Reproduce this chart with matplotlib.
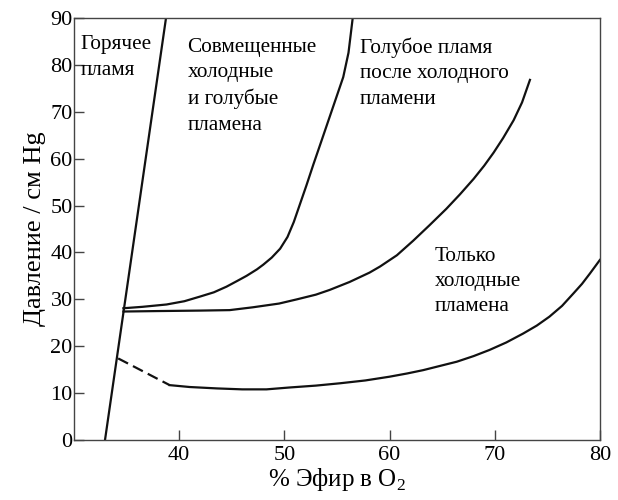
import numpy as np
import matplotlib
matplotlib.use("Agg")
import matplotlib.pyplot as plt

plt.rcParams['font.family'] = ['Liberation Serif', 'DejaVu Serif']
plt.rcParams['mathtext.fontset'] = 'custom'
plt.rcParams['mathtext.rm'] = 'Liberation Serif'

# boundary: hot flame
hot_x = [32.95, 38.75]
hot_y = [0, 90]

# boundary: combined cold and blue flames
comb_x = [34.7, 36.5, 38.8, 40.5, 42.0, 43.3, 44.5, 45.5, 46.4, 47.4, 48.0, 48.8, 49.6, 50.3, 50.9,
          51.5, 52.1, 52.75, 53.5, 54.2, 54.9, 55.6, 56.1, 56.5]
comb_y = [28.1, 28.4, 28.9, 29.6, 30.6, 31.5, 32.7, 33.9, 35.0, 36.4, 37.4, 38.9, 40.8, 43.3, 46.5,
          50.4, 54.3, 58.7, 63.6, 68.2, 72.8, 77.4, 82.6, 90.0]

# boundary: blue flame after cold flame
blue_x = [34.7, 38.0, 42.0, 44.8, 47.0, 49.5, 51.2, 53.0, 54.3, 56.2, 58.1, 59.1, 60.7, 62.25, 63.8,
          65.4, 66.7, 68.0, 69.0, 69.9, 70.8, 71.8, 72.6, 73.35]
blue_y = [27.4, 27.5, 27.6, 27.7, 28.3, 29.1, 30.0, 31.0, 32.0, 33.7, 35.7, 37.0, 39.4, 42.5, 45.8,
          49.3, 52.4, 55.7, 58.5, 61.3, 64.4, 68.2, 72.0, 76.8]

# boundary: cold flames only (dashed part, then solid part)
cold_dash_x = [34.2, 39.1]
cold_dash_y = [17.4, 11.7]
cold_x = [39.1, 41.0, 43.6, 46.0, 48.3, 50.5, 53.0, 55.3, 57.7, 60.0, 61.7, 63.2, 64.8, 66.4, 68.0,
          69.5, 71.1, 72.7, 74.0, 75.2, 76.4, 77.5, 78.3, 79.05, 80.0]
cold_y = [11.7, 11.3, 11.0, 10.8, 10.8, 11.2, 11.6, 12.1, 12.7, 13.5, 14.2, 14.9, 15.8, 16.7, 17.9,
          19.2, 20.8, 22.7, 24.4, 26.3, 28.6, 31.3, 33.3, 35.5, 38.4]

x_ticks = [40, 50, 60, 70, 80]
y_ticks = list(range(0, 91, 10))

fig = plt.figure(figsize=(6.18, 5), dpi=100)
ax = fig.add_axes([0.1197, 0.12, 0.851, 0.844])

lw = 1.6
for xs, ys in [(hot_x, hot_y), (comb_x, comb_y), (blue_x, blue_y), (cold_x, cold_y)]:
    ax.plot(xs, ys, color='#111111', lw=lw, solid_joinstyle='round')
ax.plot(cold_dash_x, cold_dash_y, color='#111111', lw=lw, dashes=(5, 2.5))

ax.set_xlim(30, 80)
ax.set_ylim(0, 90)
ax.set_xticks(x_ticks)
ax.set_yticks(y_ticks)
ax.tick_params(direction='in', length=7, width=1, labelsize=16, color='#444444')
ax.tick_params(axis='y', pad=1)
ax.tick_params(axis='x', pad=4)
for s in ax.spines.values():
    s.set_linewidth(1)
    s.set_color('#444444')

ax.set_xlabel('% Эфир в O$_2$', fontsize=18, labelpad=1)
ax.set_ylabel('Давление / см Hg', fontsize=19, labelpad=3)

fs = 15.3
ls = 1.45
ax.text(30.6, 86.3, 'Горячее\nпламя', fontsize=fs, va='top', ha='left', linespacing=ls)
ax.text(40.8, 85.8, 'Совмещенные\nхолодные\nи голубые\nпламена', fontsize=fs, va='top', ha='left', linespacing=ls)
ax.text(57.2, 85.8, 'Голубое пламя\nпосле холодного\nпламени', fontsize=fs, va='top', ha='left', linespacing=ls)
ax.text(64.3, 41.2, 'Только\nхолодные\nпламена', fontsize=fs, va='top', ha='left', linespacing=ls)

fig.savefig('out.png', dpi=100)
